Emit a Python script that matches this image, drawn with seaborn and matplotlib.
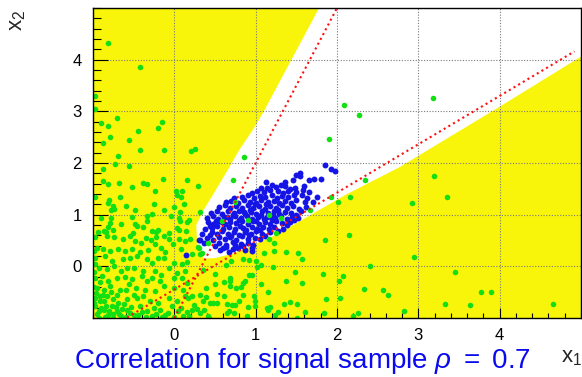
import matplotlib
matplotlib.use("Agg")
import matplotlib.pyplot as plt
from matplotlib.ticker import MultipleLocator, FixedLocator
import pandas as pd
import seaborn as sns

sns.set_theme(style="white")
plt.rcParams["font.family"] = ["Liberation Sans", "DejaVu Sans"]
plt.rcParams["mathtext.fontset"] = "custom"
plt.rcParams["mathtext.rm"] = "Liberation Sans"
plt.rcParams["mathtext.it"] = "Liberation Sans:italic"
plt.rcParams["mathtext.bf"] = "Liberation Sans:bold"

# ---- data -------------------------------------------------------------
x_range = [-1, 5]
y_range = [-1, 5]
x_ticks = [0, 1, 2, 3, 4]
y_ticks = [0, 1, 2, 3, 4]

# signal sample (x1, x2)
signal_pts = [
    (1.85, 1.97), (1.93, 1.89), (1.98, 1.84),
    (1.49, 1.76), (1.55, 1.81), (1.55, 1.74), (1.72, 1.70), (1.80, 1.69),
    (1.66, 1.68), (1.46, 1.68), (1.36, 1.63), (1.13, 1.63),
    (1.31, 1.58), (1.20, 1.58), (1.59, 1.55), (1.48, 1.51), (1.42, 1.50), (1.06, 1.52),
    (1.14, 1.51), (1.25, 1.53), (1.36, 1.55),
    (0.95, 1.42), (1.02, 1.46), (1.10, 1.44), (1.18, 1.47), (1.27, 1.45), (1.33, 1.42),
    (1.40, 1.46), (1.50, 1.44), (1.65, 1.43), (1.58, 1.47),
    (0.73, 1.32), (0.83, 1.35), (0.90, 1.38), (0.98, 1.33), (1.05, 1.37), (1.12, 1.35),
    (1.20, 1.38), (1.26, 1.32), (1.32, 1.37), (1.40, 1.34), (1.47, 1.38), (1.57, 1.38),
    (1.76, 1.35), (1.63, 1.32),
    (0.63, 1.24), (0.70, 1.27), (0.78, 1.22), (0.86, 1.28), (0.93, 1.25), (1.00, 1.22),
    (1.07, 1.28), (1.15, 1.24), (1.22, 1.27), (1.29, 1.22), (1.36, 1.26), (1.43, 1.23),
    (1.50, 1.28), (1.61, 1.25), (1.70, 1.24),
    (0.55, 1.15), (0.62, 1.18), (0.69, 1.12), (0.76, 1.17), (0.83, 1.13), (0.90, 1.18),
    (0.97, 1.12), (1.04, 1.16), (1.11, 1.11), (1.18, 1.17), (1.25, 1.13), (1.32, 1.18),
    (1.39, 1.12), (1.46, 1.16), (1.53, 1.11), (1.62, 1.15),
    (0.45, 1.03), (0.52, 1.07), (0.59, 1.02), (0.66, 1.08), (0.73, 1.03), (0.80, 1.07),
    (0.87, 1.01), (0.94, 1.06), (1.01, 1.02), (1.08, 1.08), (1.15, 1.03), (1.22, 1.07),
    (1.29, 1.01), (1.36, 1.06), (1.43, 1.03), (1.56, 1.07), (1.50, 1.00),
    (0.40, 0.93), (0.47, 0.97), (0.54, 0.92), (0.61, 0.96), (0.68, 0.91), (0.75, 0.97),
    (0.82, 0.93), (0.89, 0.98), (0.96, 0.92), (1.03, 0.96), (1.10, 0.91), (1.17, 0.97),
    (1.24, 0.93), (1.31, 0.98), (1.38, 0.92), (1.45, 0.96), (1.52, 0.94),
    (0.41, 0.85), (0.48, 0.82), (0.55, 0.87), (0.62, 0.81), (0.69, 0.86), (0.76, 0.83),
    (0.83, 0.88), (0.90, 0.82), (0.97, 0.87), (1.04, 0.81), (1.11, 0.86), (1.18, 0.82),
    (1.25, 0.88), (1.32, 0.83), (1.42, 0.86),
    (0.46, 0.74), (0.53, 0.78), (0.60, 0.72), (0.67, 0.77), (0.74, 0.73), (0.81, 0.78),
    (0.88, 0.71), (0.95, 0.76), (1.02, 0.72), (1.09, 0.77), (1.16, 0.73), (1.23, 0.76),
    (1.33, 0.72),
    (0.34, 0.62), (0.46, 0.67), (0.52, 0.63), (0.59, 0.68), (0.66, 0.62), (0.73, 0.66),
    (0.80, 0.61), (0.87, 0.67), (0.94, 0.63), (1.01, 0.68), (1.08, 0.62), (1.18, 0.66),
    (0.31, 0.51), (0.40, 0.55), (0.48, 0.51), (0.55, 0.57), (0.62, 0.52), (0.69, 0.56),
    (0.76, 0.51), (0.83, 0.58), (0.90, 0.53), (0.99, 0.55), (1.05, 0.52),
    (0.55, 0.45), (0.63, 0.42), (0.72, 0.47), (0.75, 0.41), (0.82, 0.44), (0.91, 0.46),
    (0.97, 0.42),
    (0.56, 0.31), (0.60, 0.35), (0.67, 0.28), (0.78, 0.36), (0.87, 0.31), (0.95, 0.29),
    (0.96, 0.36), (0.72, 0.33),
    (0.14, 0.22), (0.30, 0.51),
    (0.86, 1.05), (0.93, 1.10), (1.00, 0.88), (1.07, 0.99), (1.14, 0.95), (1.21, 1.00),
    (1.27, 1.10), (0.79, 0.90), (0.72, 0.99), (0.99, 1.20), (1.13, 1.20), (1.20, 0.90),
    (0.65, 0.95), (0.58, 0.85), (1.05, 0.70), (0.85, 0.75), (0.92, 0.60), (0.70, 0.58),
    (0.50, 0.40), (0.44, 0.60), (0.38, 0.72), (0.64, 0.37), (0.84, 0.40), (0.51, 0.88),
    (0.44, 0.79), (0.36, 0.45), (1.12, 0.58), (1.28, 0.68), (1.38, 0.80), (1.47, 0.90),
]

# background sample (x1, x2)
background_pts = [
    (-0.81, 4.33), (-0.42, 3.85), (-0.98, 3.30), (-0.98, 3.05), (-0.90, 2.78), (-0.71, 2.87),
    (-0.81, 2.72), (-0.15, 2.79), (-0.20, 2.68), (-0.45, 2.61), (-0.79, 2.50), (-0.56, 2.44),
    (-0.88, 2.38), (-0.42, 2.25), (-0.13, 2.25), (0.25, 2.28), (0.20, 2.24),
    (2.08, 3.13), (2.27, 2.92), (1.90, 2.47), (3.18, 3.25), (0.86, 2.12), (0.72, 1.68),
    (0.29, 1.56), (0.16, 1.68), (0.09, 1.45),
    (3.19, 1.75), (3.35, 1.35), (2.92, 1.22), (2.35, 1.68), (2.16, 1.35), (1.93, 1.35),
    (2.01, 1.24), (1.67, 1.09),
    (1.17, 0.99), (1.31, 0.93), (0.90, 0.90), (0.58, 0.88), (0.75, 1.25), (1.25, 0.65),
    (1.17, 0.52), (0.41, 0.45), (0.29, 0.38), (1.22, 0.29), (0.34, 0.25), (0.32, 1.06),
    (0.18, 0.90),
    # x1 < 0.2, upper band
    (-0.69, 2.13), (-0.73, 1.99), (-0.56, 1.94), (-0.88, 1.89), (-0.88, 1.66), (-0.82, 1.59),
    (-0.68, 1.61), (-0.39, 1.61), (-0.34, 1.59), (-0.14, 1.70), (-0.52, 1.53), (-0.24, 1.46),
    (0.02, 1.45), (0.08, 1.35), (0.03, 1.38), (-0.98, 1.35), (-0.67, 1.35), (-0.80, 1.29),
    (-0.82, 1.22), (-0.76, 1.17), (-0.78, 1.09), (-0.74, 1.11), (-0.59, 1.16), (-0.48, 1.10),
    (-0.25, 1.20), (-0.13, 1.09), (0.12, 1.20), (0.00, 1.14), (0.07, 1.05), (-0.27, 1.01),
    (-0.04, 0.98), (-0.90, 0.93), (-0.78, 0.93), (-0.52, 0.96), (-0.34, 0.97), (0.06, 0.93),
    (0.07, 0.88), (-0.79, 0.83), (-0.81, 0.77), (-0.66, 0.82), (-0.48, 0.82), (-0.46, 0.79),
    (-0.33, 0.88), (-0.39, 0.77), (-0.20, 0.71), (0.03, 0.75), (-0.75, 0.71), (-0.94, 0.67),
    (-0.87, 0.69), (-0.84, 0.66), (-0.51, 0.65), (-0.27, 0.69), (-0.22, 0.67), (-0.07, 0.65),
    (0.06, 0.70), (0.14, 0.68), (0.15, 0.85),
    # x1 < 0.2, lower band
    (-0.97, 0.56), (-0.83, 0.59), (-0.74, 0.56), (-0.63, 0.53), (-0.55, 0.59), (-0.48, 0.49),
    (-0.41, 0.46), (-0.35, 0.55), (-0.29, 0.51), (-0.22, 0.57), (-0.13, 0.59), (-0.06, 0.53),
    (0.06, 0.53), (0.13, 0.49), (-0.02, 0.43), (-0.24, 0.43),
    (-0.95, 0.36), (-0.88, 0.33), (-0.79, 0.30), (-0.69, 0.33), (-0.61, 0.30), (-0.52, 0.33),
    (-0.42, 0.27), (-0.32, 0.31), (-0.16, 0.36), (-0.11, 0.27), (0.08, 0.33),
    (-0.97, 0.17), (-0.85, 0.20), (-0.77, 0.10), (-0.63, 0.14), (-0.55, 0.17), (-0.46, 0.20),
    (-0.34, 0.14), (-0.27, 0.07), (-0.20, 0.17), (-0.13, 0.16), (0.10, 0.05), (-0.01, 0.07),
    (-0.93, -0.03), (-0.83, -0.06), (-0.74, 0.01), (-0.65, -0.09), (-0.58, -0.03), (-0.50, -0.03),
    (-0.38, -0.09), (-0.24, -0.09), (-0.07, -0.03), (0.03, -0.12), (0.13, -0.09), (-0.16, -0.16),
    (-0.97, -0.22), (-0.89, -0.19), (-0.81, -0.29), (-0.71, -0.22), (-0.61, -0.21), (-0.52, -0.25),
    (-0.40, -0.19), (-0.34, -0.29), (-0.28, -0.22), (-0.18, -0.29), (-0.01, -0.22), (0.09, -0.22),
    (0.15, -0.32),
    (-0.95, -0.42), (-0.87, -0.45), (-0.79, -0.38), (-0.67, -0.45), (-0.56, -0.35), (-0.47, -0.42),
    (-0.36, -0.45), (-0.24, -0.48), (-0.13, -0.38), (-0.01, -0.42), (0.11, -0.45),
    (-0.97, -0.61), (-0.91, -0.68), (-0.83, -0.58), (-0.75, -0.64), (-0.69, -0.71), (-0.58, -0.64),
    (-0.46, -0.61), (-0.38, -0.58), (-0.30, -0.68), (-0.20, -0.71), (-0.07, -0.61), (0.03, -0.68),
    (0.13, -0.58),
    (-0.97, -0.77), (-0.93, -0.87), (-0.87, -0.84), (-0.81, -0.94), (-0.77, -0.77), (-0.71, -0.87),
    (-0.65, -0.97), (-0.58, -0.84), (-0.50, -0.94), (-0.42, -0.77), (-0.34, -0.87), (-0.28, -0.97),
    (-0.18, -0.84), (-0.11, -0.94), (-0.03, -0.77), (0.05, -0.87), (0.11, -0.97), (-0.93, -1.00),
    (-0.85, -0.99), (-0.75, -1.00),
    (-0.99, -0.70), (-0.95, -0.92), (-0.90, -0.80), (-0.86, -0.68), (-0.84, -0.76), (-0.80, -0.86),
    (-0.76, -0.93), (-0.72, -0.79), (-0.68, -0.93), (-0.64, -0.82), (-0.62, -0.73), (-0.55, -0.90),
    (-0.53, -0.78), (-0.45, -0.95), (-0.40, -0.88), (-0.96, -0.52), (-0.92, -0.58), (-0.88, -0.55),
    (-0.99, -0.40), (-0.99, -0.10), (-0.97, 0.05), (-0.99, 0.30), (-0.91, -0.30), (-0.78, -0.50),
    (-0.70, -0.55), (-0.60, -0.45), (-0.50, -0.55), (-0.25, -0.80), (-0.22, -0.92), (-0.08, -0.90),
    (0.00, -0.98), (0.08, -0.80), (-0.60, -0.98), (-0.35, -0.99), (-0.15, -0.99),
    # 0.15 < x1 < 1.4, below the signal
    (0.84, 0.14), (0.92, 0.12), (1.06, 0.02), (1.02, -0.01), (0.96, -0.17), (1.07, -0.34),
    (0.50, -0.34), (0.61, -0.31), (0.69, -0.29), (0.76, -0.42), (0.84, -0.32), (0.82, -0.40),
    (0.61, -0.58), (0.52, -0.53), (0.39, -0.60), (0.85, -0.55), (1.15, -0.49), (0.71, -0.74),
    (0.65, -0.72), (0.74, -0.74), (0.91, -0.78), (0.99, -0.77), (1.18, -0.79), (1.15, -0.84),
    (1.28, -0.89), (0.65, -0.90), (0.73, -0.90), (0.89, -0.97), (0.43, -1.00), (0.35, -0.08),
    (0.50, -0.14),
    (0.19, 0.52), (0.30, 0.36), (0.22, 0.23), (0.15, 0.09), (0.32, 0.23), (1.22, 0.46),
    (1.10, 0.25), (1.01, 0.10), (0.63, 0.03), (0.70, 0.10), (1.21, -0.01), (0.92, -0.16),
    (0.69, -0.22), (0.69, -0.38), (0.87, -0.29), (0.39, -0.42), (0.32, -0.55), (0.22, -0.58),
    (0.17, -0.61), (0.35, -0.68), (0.44, -0.71), (0.48, -0.71), (0.52, -0.71), (0.79, -0.68),
    (0.98, -0.58), (0.99, -0.68), (0.24, -0.74), (0.22, -0.84), (0.28, -0.82), (0.31, -0.90),
    (0.36, -0.84), (0.42, -0.97), (0.16, -0.88), (0.67, -0.87), (1.14, -0.81), (1.24, -0.94),
    (0.18, -0.97),
    # x1 > 1.3
    (1.85, 0.51), (2.15, 0.60), (1.37, 0.27), (1.52, 0.25), (1.57, 0.15), (1.48, -0.10),
    (1.83, -0.14), (2.07, -0.19), (2.02, -0.29), (2.40, 0.01), (2.95, 0.19), (1.37, -0.29),
    (1.57, -0.32), (2.33, -0.43), (2.56, -0.45), (2.63, -0.56), (1.86, -0.63), (2.04, -0.61),
    (1.35, -0.72), (1.42, -0.69), (1.51, -0.72), (1.61, -0.89), (1.84, -0.90), (2.20, -0.97),
    (2.26, -0.90), (2.82, -0.86), (1.51, -1.00),
    (3.45, -0.10), (3.33, -0.72), (3.64, -0.74), (3.77, -0.50), (3.89, -0.49), (4.66, -0.72),
]

# signal-region boundary (white area), upper and lower branches
region_upper = [(0.36, 0.15), (0.28, 0.45), (0.27, 0.80), (0.36, 1.09), (0.50, 1.45),
                (0.67, 1.90), (0.79, 2.23), (1.01, 2.75), (1.10, 3.00), (1.44, 4.00),
                (1.78, 5.00), (1.85, 5.20), (5.20, 5.20), (5.20, 4.25)]
region_lower = [(5.00, 4.06), (4.00, 3.09), (2.77, 1.92), (2.10, 1.38), (1.24, 0.60),
                (0.73, 0.25), (0.50, 0.16)]

# dotted reference lines
line_a_x = [0.0, 2.0]
line_a_y = [-1.0, 5.0]
line_b_x = [-0.58, 4.92]
line_b_y = [-0.99, 4.16]

# ---- figure -----------------------------------------------------------
YELLOW = "#f8f50a"
GREEN = "#12e012"
BLUE = "#1414e6"
RED = "#ff1010"

fig = plt.figure(figsize=(5.82, 3.77), dpi=100)
ax = fig.add_axes([93 / 582, 59 / 377, 488 / 582, 310 / 377])
ax.set_facecolor(YELLOW)

region = region_upper + region_lower
ax.fill([p[0] for p in region], [p[1] for p in region], color="white", lw=0, zorder=0.8)

sig = pd.DataFrame(signal_pts, columns=["x1", "x2"])
bkg = pd.DataFrame(background_pts, columns=["x1", "x2"])
sns.scatterplot(data=sig, x="x1", y="x2", color=BLUE, s=18, linewidth=0, ax=ax, zorder=3)
sns.scatterplot(data=bkg, x="x1", y="x2", color=GREEN, s=16, linewidth=0, ax=ax, zorder=3.2)

for lx, ly in [(line_a_x, line_a_y), (line_b_x, line_b_y)]:
    sns.lineplot(x=lx, y=ly, color=RED, lw=1.5, linestyle=(0, (1, 1.6)), sort=False,
                 estimator=None, ax=ax, zorder=4)

ax.set_xlim(*x_range)
ax.set_ylim(*y_range)
ax.xaxis.set_major_locator(FixedLocator(x_ticks))
ax.yaxis.set_major_locator(FixedLocator(y_ticks))
ax.xaxis.set_minor_locator(MultipleLocator(0.2))
ax.yaxis.set_minor_locator(MultipleLocator(0.2))
ax.set_xticklabels([str(t) for t in x_ticks])
ax.set_yticklabels([str(t) for t in y_ticks])
ax.set_xlabel("")
ax.set_ylabel("")

ax.set_axisbelow("line")
ax.grid(True, which="major", color="#7a7a7a", lw=0.8, linestyle=(0, (1, 1.5)))
ax.tick_params(which="both", direction="in", top=False, right=False, bottom=True, left=True,
               color="black", labelsize=12, labelcolor="black")
ax.tick_params(axis="y", which="major", length=10.8, width=0.8, pad=8)
ax.tick_params(axis="y", which="minor", length=5.8, width=0.8)
ax.tick_params(axis="x", which="major", length=7.2, width=0.8, pad=7)
ax.tick_params(axis="x", which="minor", length=3.6, width=0.8)
for sp in ax.spines.values():
    sp.set_color("black")
    sp.set_linewidth(1.0)
    sp.set_zorder(5)
    sp.set_visible(True)

fig.text(17 / 582, 1 - 10 / 377, r"x$_2$", rotation=90, ha="center", va="top", fontsize=16)
fig.text(1.0, 1 - 357 / 377, r"x$_1$", ha="right", va="center", fontsize=16)
fig.text(302 / 582, 9 / 377, r"Correlation for signal sample $\rho\ =\ 0.7$", ha="center",
         va="baseline", fontsize=20, color="#0a0af0")

fig.savefig("out.png", dpi=100)
